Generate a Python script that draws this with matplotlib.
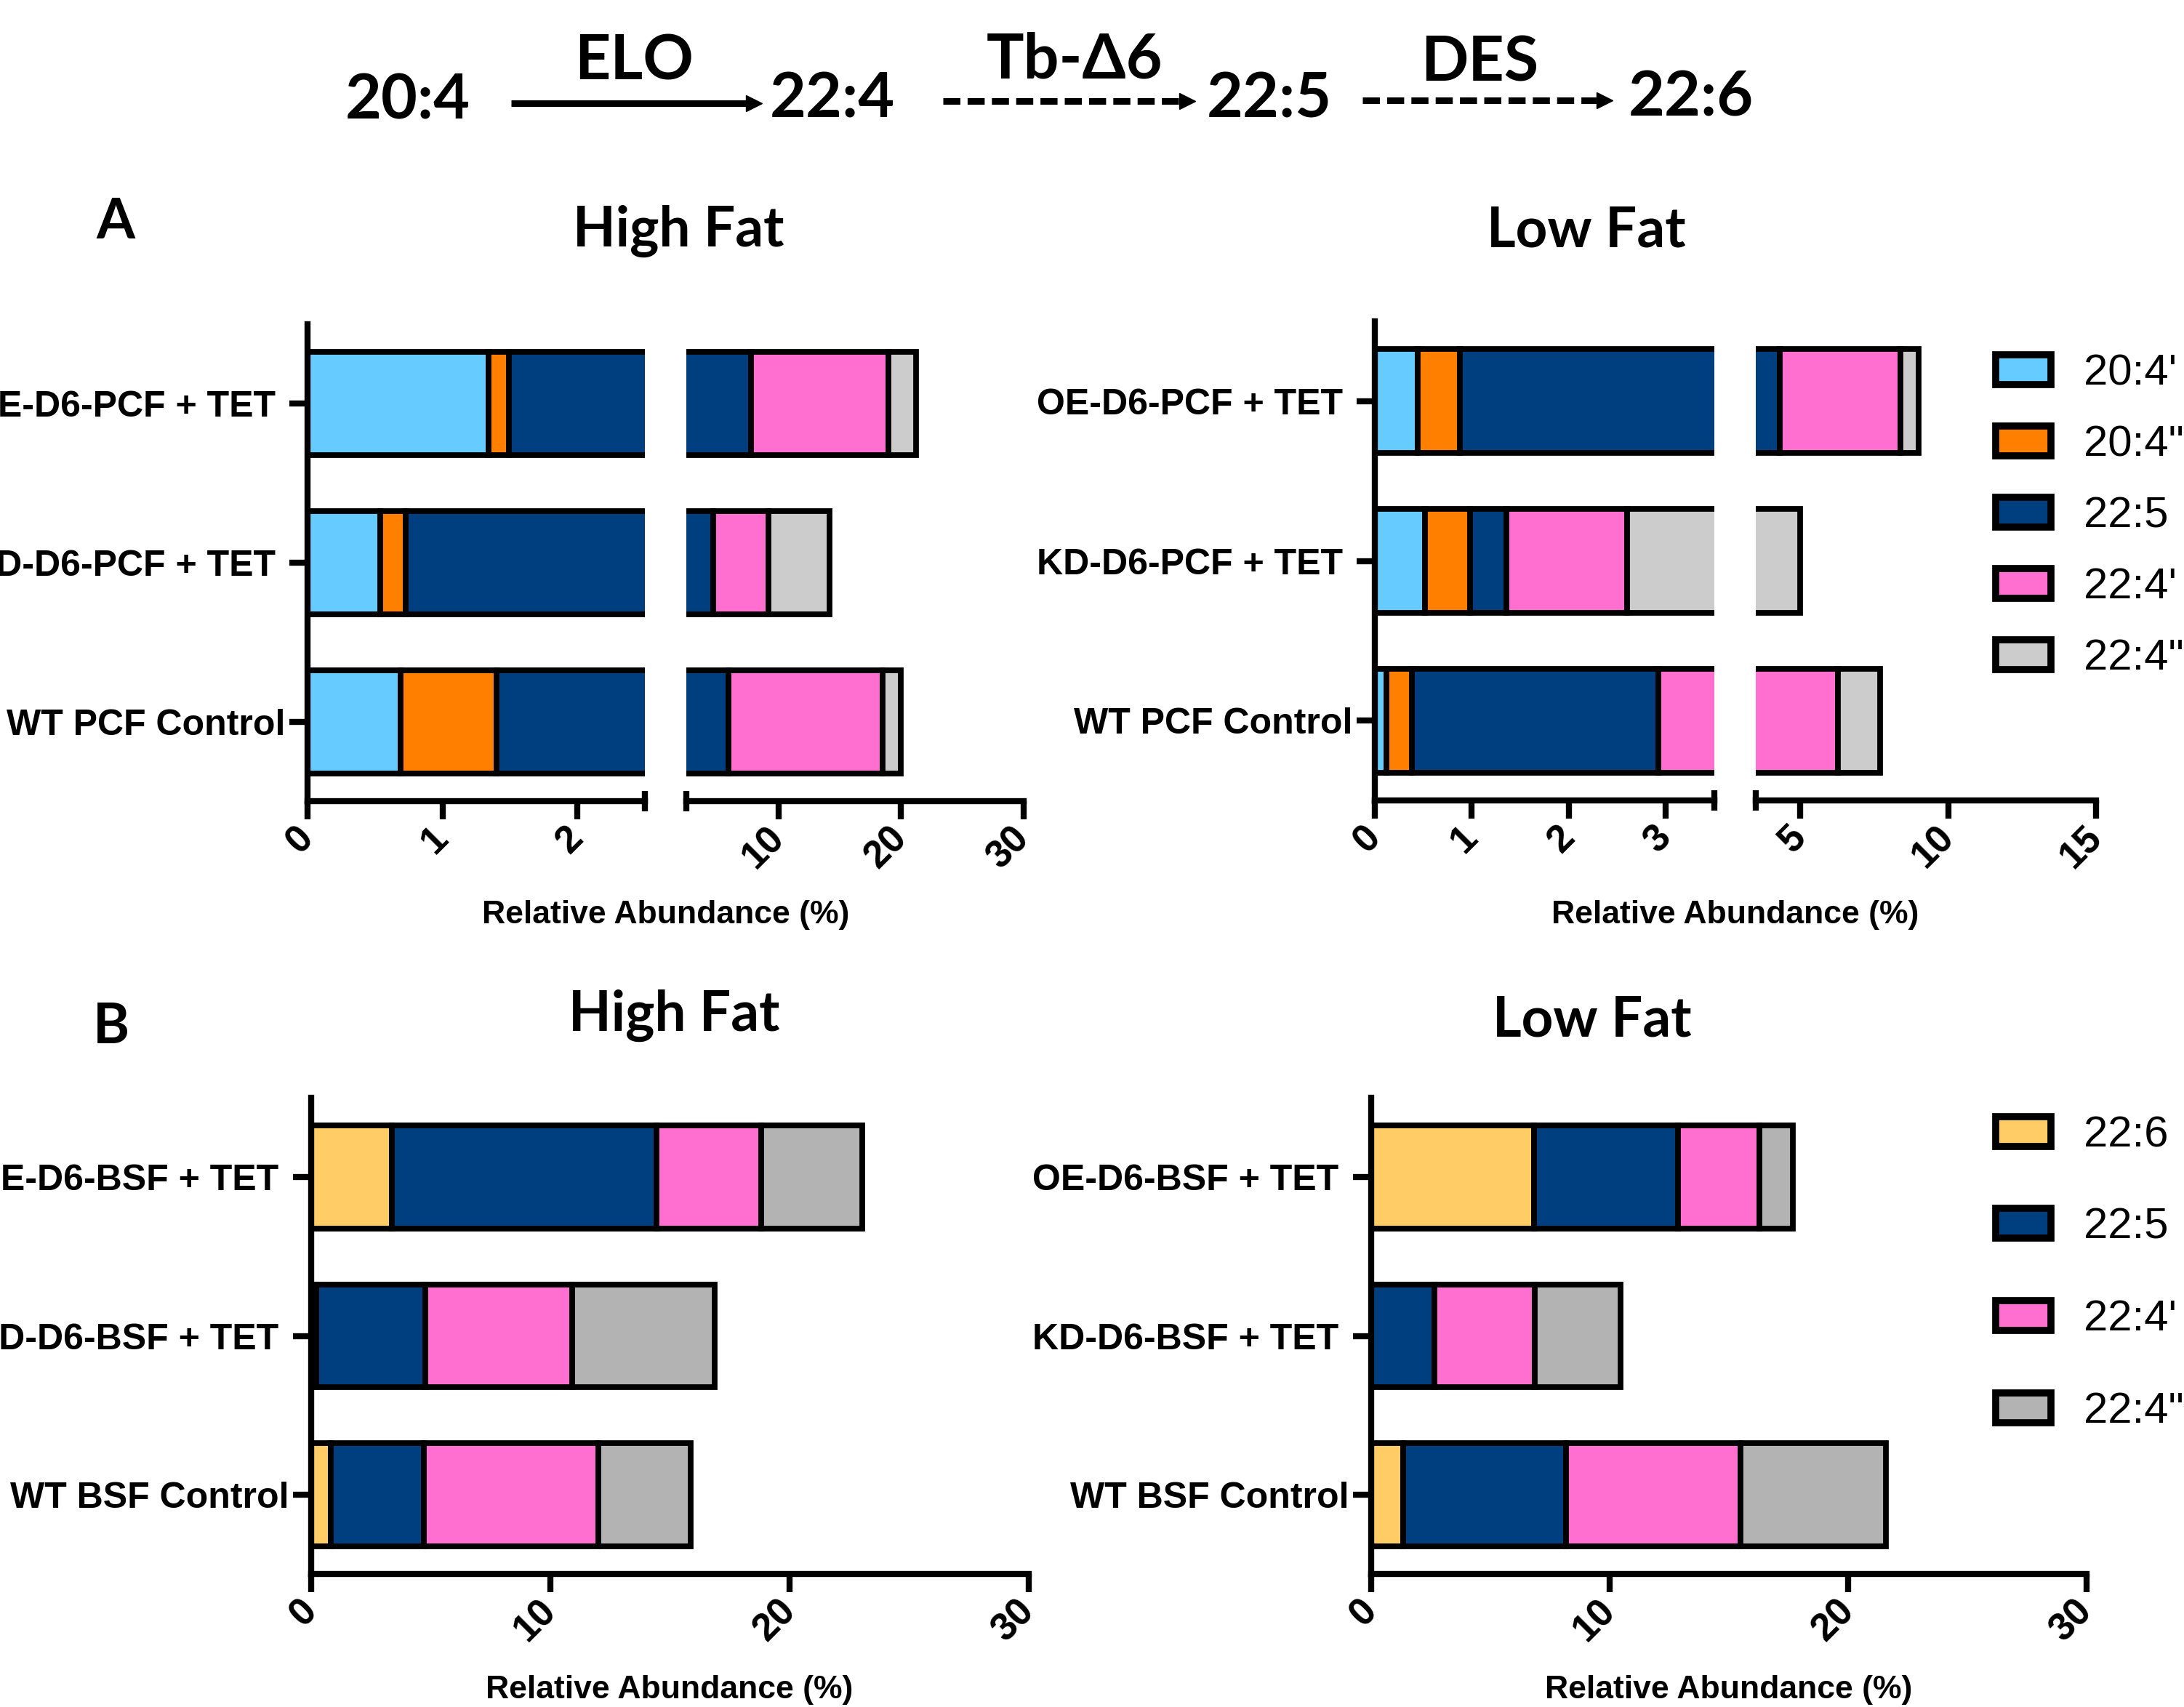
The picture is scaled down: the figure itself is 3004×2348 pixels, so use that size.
import matplotlib.pyplot as plt
import numpy as np
from matplotlib.lines import Line2D
from matplotlib.patches import Patch

plt.rcParams['font.family'] = ['Liberation Sans', 'DejaVu Sans']

# ---- data (rows: OE, KD, WT) ----
pcf_groups = ['OE-D6-PCF + TET ', 'KD-D6-PCF + TET ', 'WT PCF Control']
bsf_groups = ['OE-D6-BSF + TET ', 'KD-D6-BSF + TET ', 'WT BSF Control']
pcf_species = ["20:4'", '20:4"', '22:5', "22:4'", '22:4"']
bsf_species = ['22:6', '22:5', "22:4'", '22:4"']
pcf_colors = ['#66CCFF', '#FF8000', '#003F7F', '#FF6FCF', '#CCCCCC']
bsf_colors = ['#FFCC66', '#003F7F', '#FF6FCF', '#B3B3B3']

# PCF, high fat
hf_pcf_204a = [1.34, 0.54, 0.69]
hf_pcf_204b = [0.15, 0.19, 0.71]
hf_pcf_225 = [6.31, 3.97, 4.56]
hf_pcf_224a = [11.2, 4.5, 12.54]
hf_pcf_224b = [2.2, 5.0, 1.5]
# PCF, low fat
lf_pcf_204a = [0.44, 0.52, 0.12]
lf_pcf_204b = [0.44, 0.46, 0.26]
lf_pcf_225 = [3.44, 0.38, 2.54]
lf_pcf_224a = [4.07, 1.24, 3.36]
lf_pcf_224b = [0.61, 2.4, 1.42]
# BSF, high fat
hf_bsf_226 = [3.37, 0.22, 0.82]
hf_bsf_225 = [11.08, 4.56, 3.88]
hf_bsf_224a = [4.35, 6.12, 7.3]
hf_bsf_224b = [4.25, 5.97, 3.86]
# BSF, low fat
lf_bsf_226 = [6.83, 0.0, 1.34]
lf_bsf_225 = [6.05, 2.65, 6.83]
lf_bsf_224a = [3.4, 4.21, 7.33]
lf_bsf_224b = [1.4, 3.59, 6.08]

W, H = 3004, 2348
fig = plt.figure(figsize=(W / 100, H / 100), dpi=100)


def fx(x):
    return x / W


def fy(y):
    return 1 - y / H


def px_box(x0, y0, x1, y1):
    return [x0 / W, 1 - y1 / H, (x1 - x0) / W, (y1 - y0) / H]


ypos = np.array([2, 1, 0])
LW = 6


def draw_bars(ax, series, colors):
    left = np.zeros(3)
    for vals, col in zip(series, colors):
        vals = np.array(vals)
        ax.barh(ypos, vals, left=left, height=0.65, color=col,
                edgecolor='black', linewidth=5.6)
        left += vals
    ax.set_ylim(-0.5, 2.5)
    for s in ['top', 'right']:
        ax.spines[s].set_visible(False)
    for s in ['left', 'bottom']:
        ax.spines[s].set_linewidth(LW)
    ax.tick_params(axis='both', direction='out', length=18, width=LW)


def style_xticks(ax, ticks):
    ax.set_xticks(ticks)
    ax.set_xticklabels([str(t) for t in ticks], rotation=45, ha='right',
                       va='center', rotation_mode='anchor',
                       fontsize=38, fontweight='bold')
    ax.tick_params(axis='x', pad=13)


def style_yticks(ax, groups):
    ax.set_yticks(ypos)
    ax.set_yticklabels(groups, fontsize=36, fontweight='bold')
    ax.tick_params(axis='y', pad=4)


def broken_panel(xl, xr, y0, y1, lim_l, lim_r, ticks_l, ticks_r, groups,
                 series, colors):
    axl = fig.add_axes(px_box(xl[0], y0, xl[1], y1))
    axr = fig.add_axes(px_box(xr[0], y0, xr[1], y1))
    for ax in (axl, axr):
        draw_bars(ax, series, colors)
    axl.set_xlim(*lim_l)
    axr.set_xlim(*lim_r)
    style_yticks(axl, groups)
    axr.spines['left'].set_visible(False)
    axr.set_yticks([])
    style_xticks(axl, ticks_l)
    style_xticks(axr, ticks_r)
    # break marks
    for ax, xv in ((axl, lim_l[1]), (axr, lim_r[0])):
        ax.plot([xv, xv], [-0.022, 0.022], transform=ax.get_xaxis_transform(),
                color='black', lw=LW, clip_on=False, solid_capstyle='butt')
    return axl, axr


def single_panel(xs, y0, y1, xlim, ticks, groups, series, colors):
    ax = fig.add_axes(px_box(xs[0], y0, xs[1], y1))
    draw_bars(ax, series, colors)
    ax.set_xlim(*xlim)
    style_yticks(ax, groups)
    style_xticks(ax, ticks)
    return ax


hf_pcf = [hf_pcf_204a, hf_pcf_204b, hf_pcf_225, hf_pcf_224a, hf_pcf_224b]
lf_pcf = [lf_pcf_204a, lf_pcf_204b, lf_pcf_225, lf_pcf_224a, lf_pcf_224b]
hf_bsf = [hf_bsf_226, hf_bsf_225, hf_bsf_224a, hf_bsf_224b]
lf_bsf = [lf_bsf_226, lf_bsf_225, lf_bsf_224a, lf_bsf_224b]

broken_panel((423, 887), (944, 1408), 446, 1102, (0, 2.5), (2.5, 30),
             [0, 1, 2], [10, 20, 30], pcf_groups, hf_pcf, pcf_colors)
broken_panel((1891, 2358), (2415, 2883), 442, 1101, (0, 3.5), (3.5, 15),
             [0, 1, 2, 3], [5, 10, 15], pcf_groups, lf_pcf, pcf_colors)
single_panel((428, 1415), 1510, 2165, (0, 30), [0, 10, 20, 30],
             bsf_groups, hf_bsf, bsf_colors)
single_panel((1886, 2870), 1510, 2165, (0, 30), [0, 10, 20, 30],
             bsf_groups, lf_bsf, bsf_colors)

# legends
h_pcf = [Patch(facecolor=c, edgecolor='black', linewidth=7, joinstyle='round')
         for c in pcf_colors]
h_bsf = [Patch(facecolor=c, edgecolor='black', linewidth=7, joinstyle='round')
         for c in bsf_colors]
fig.legend(h_pcf, pcf_species, loc='upper left', bbox_to_anchor=(fx(2745), fy(486)),
           frameon=False, fontsize=43, handlelength=1.27, handleheight=0.68,
           handletextpad=0.75, labelspacing=0.72, borderpad=0, borderaxespad=0)
fig.legend(h_bsf, bsf_species, loc='upper left', bbox_to_anchor=(fx(2745), fy(1534)),
           frameon=False, fontsize=43, handlelength=1.27, handleheight=0.68,
           handletextpad=0.75, labelspacing=1.2, borderpad=0, borderaxespad=0)

# axis labels
for x, y in ((916, 1270), (2387, 1270), (921, 2336), (2378, 2336)):
    fig.text(fx(x), fy(y), 'Relative Abundance (%)', ha='center', va='baseline',
             fontsize=32, fontweight='bold')

# titles and panel letters
hdr = dict(family=['Lato', 'DejaVu Sans'], fontweight='bold', va='baseline')
fig.text(fx(933), fy(339), 'High Fat', ha='center', fontsize=55, **hdr)
fig.text(fx(2182), fy(339), 'Low Fat', ha='center', fontsize=55, **hdr)
fig.text(fx(927), fy(1418), 'High Fat', ha='center', fontsize=55, **hdr)
fig.text(fx(2190), fy(1425), 'Low Fat', ha='center', fontsize=55, **hdr)
fig.text(fx(159), fy(328), 'A', ha='center', fontsize=55, **hdr)
fig.text(fx(153), fy(1435), 'B', ha='center', fontsize=55, **hdr)

# pathway at the top
for x, y, s in ((561, 163, '20:4'), (1145, 162, '22:4'), (1746, 162, '22:5'),
                (2326, 160, '22:6'), (872, 110, 'ELO'), (1478, 108, 'Tb-Δ6'),
                (2035, 112, 'DES')):
    fig.text(fx(x), fy(y), s, ha='center', fontsize=62, **hdr)


def arrow(x0, x1, y, dashed):
    ls = (0, (2.6, 1.1)) if dashed else '-'
    fig.add_artist(Line2D([fx(x0), fx(x1 - 16)], [fy(y), fy(y)], transform=fig.transFigure,
                          color='black', lw=6.5, linestyle=ls,
                          solid_capstyle='butt', dash_capstyle='butt'))
    fig.add_artist(Line2D([fx(x1 - 11.5)], [fy(y)], transform=fig.transFigure,
                          marker='>', markersize=16.5, color='black', lw=0))


arrow(703, 1048, 142, False)
arrow(1297, 1644, 139, True)
arrow(1874, 2218, 138, True)

plt.savefig('out.png', dpi=100)
